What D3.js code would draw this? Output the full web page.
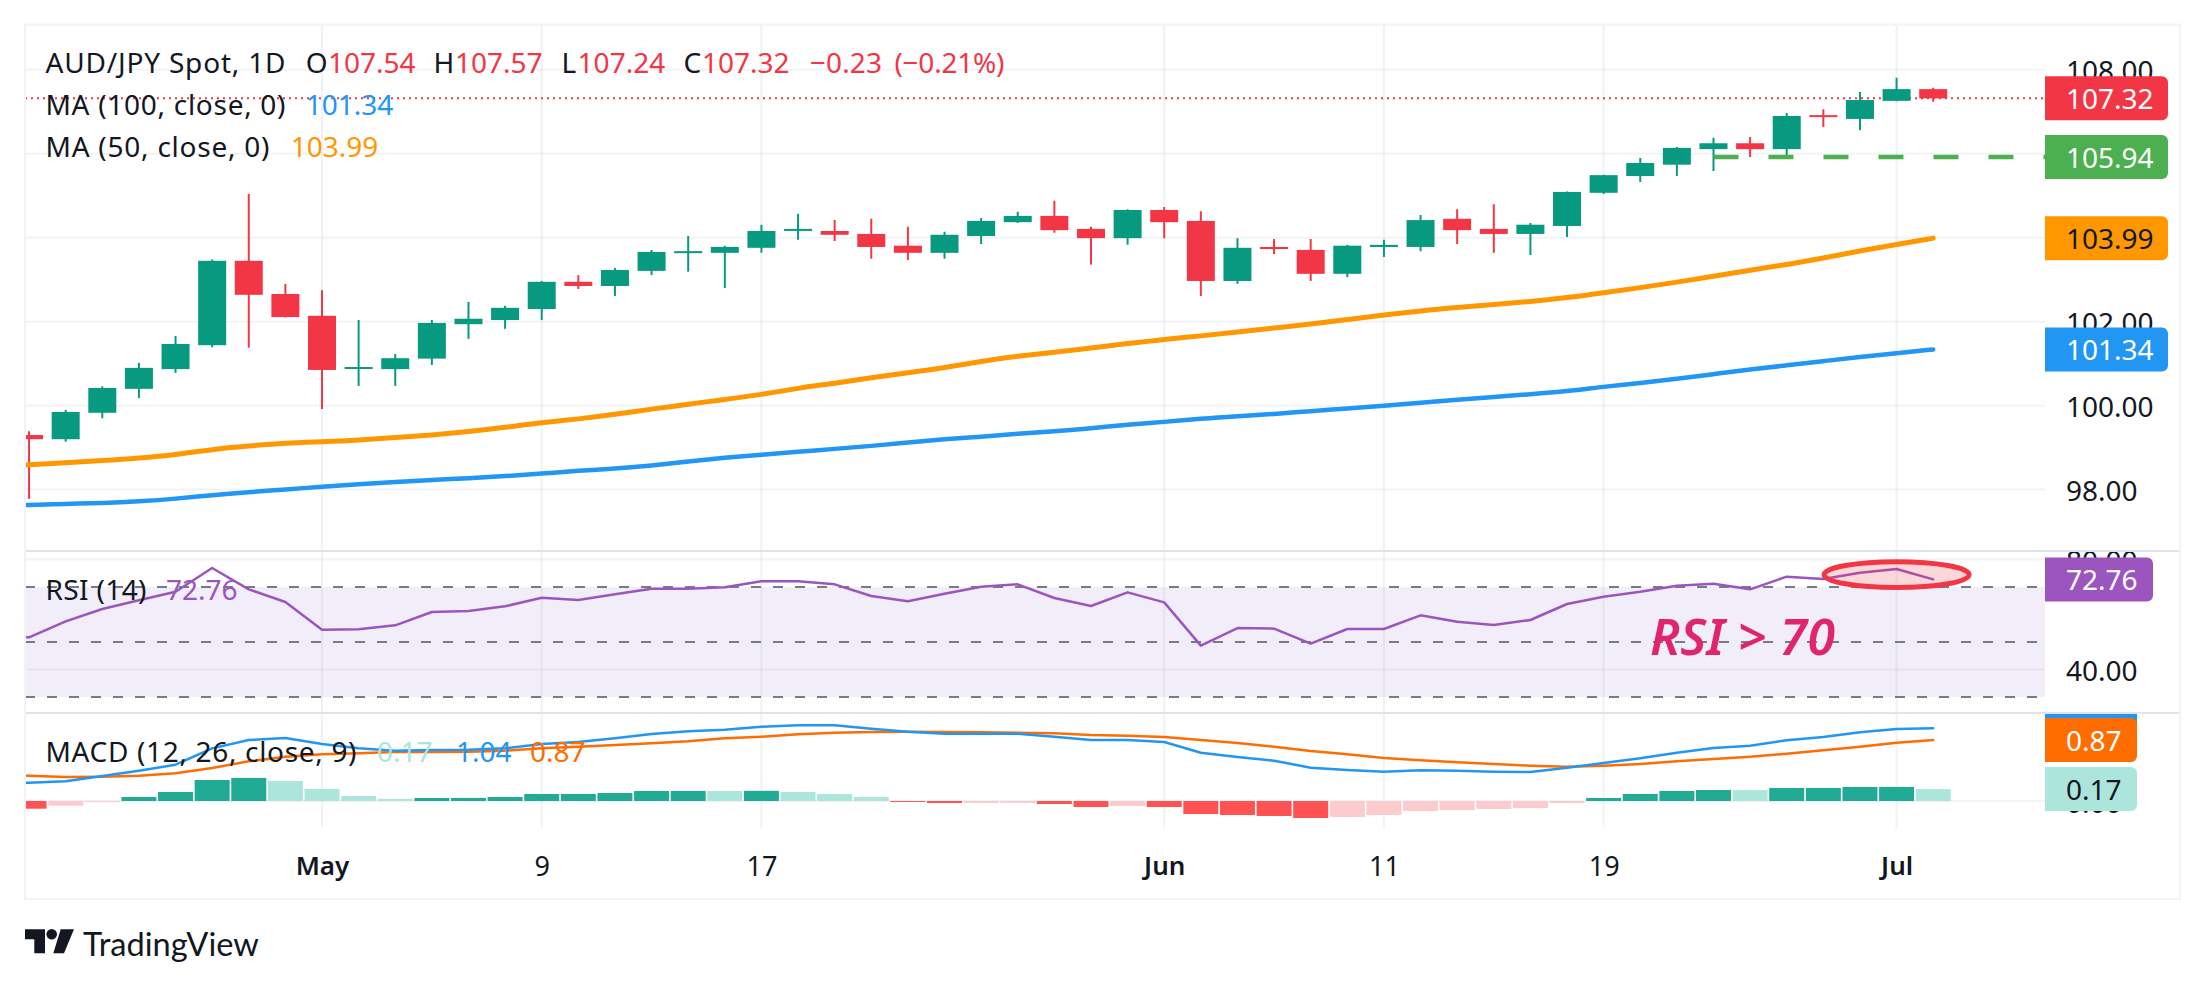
<!DOCTYPE html>
<html>
<head>
<meta charset="utf-8">
<script src="https://cdn.jsdelivr.net/npm/d3@7"></script>
<style>
  body { margin: 0; background: #fff; }
  text { font-family: "Noto Sans", Lato, sans-serif; font-size: 28px; dominant-baseline: central; }
</style>
</head>
<body>
<svg id="chart" width="2205" height="987"></svg>
<script>
// Candles, oldest first
var openPrices = [99.30,99.20,99.83,100.40,100.87,101.44,103.45,102.66,102.14,100.88,100.87,101.12,101.94,102.04,102.30,102.95,102.85,103.21,103.65,103.64,
  103.76,104.17,104.16,104.09,103.81,103.64,104.04,104.37,104.52,104.21,103.99,104.66,104.40,102.97,103.78,103.71,103.14,103.78,103.78,104.45,
  104.21,104.09,104.28,105.07,105.47,105.74,106.11,106.25,106.11,106.92,106.83,107.26,107.54];
var highPrices = [99.39,99.90,100.46,101.02,101.66,103.48,105.04,102.90,102.75,102.04,101.23,102.04,102.47,102.38,102.97,103.11,103.28,103.71,104.04,103.81,
  104.31,104.57,104.42,104.45,104.26,104.14,104.47,104.62,104.88,104.26,104.68,104.73,104.63,103.99,103.97,103.97,103.83,103.95,104.54,104.68,
  104.80,104.35,105.10,105.50,105.90,106.16,106.38,106.40,106.97,107.06,107.47,107.81,107.57];
var lowPrices = [97.78,99.14,99.70,100.18,100.78,101.39,101.38,102.10,99.92,100.47,100.47,100.97,101.59,101.83,102.04,102.78,102.61,103.11,103.19,102.80,
  103.64,103.95,103.92,103.50,103.47,103.50,103.85,104.35,104.12,103.36,103.83,103.99,102.61,102.90,103.61,102.97,103.06,103.54,103.68,103.85,
  103.64,103.59,104.02,105.04,105.33,105.47,105.59,105.92,105.95,106.64,106.56,107.25,107.24];
var closePrices = [99.20,99.85,100.42,100.90,101.47,103.45,102.64,102.11,100.85,100.92,101.13,101.97,102.07,102.33,102.95,102.85,103.23,103.66,103.68,103.78,
  104.16,104.21,104.07,103.78,103.64,104.07,104.40,104.52,104.18,103.99,104.66,104.37,102.97,103.76,103.73,103.14,103.81,103.83,104.42,104.18,
  104.09,104.31,105.09,105.49,105.78,106.14,106.25,106.11,106.90,106.88,107.28,107.54,107.32];

// Indicator lines start one bar before the first candle, off the left edge
var ma50 = [98.55,98.59,98.64,98.69,98.75,98.83,98.96,99.04,99.11,99.14,99.18,99.24,99.30,99.38,99.48,99.60,99.68,99.79,99.92,100.03,100.15,
  100.26,100.42,100.53,100.67,100.78,100.90,101.06,101.18,101.27,101.37,101.48,101.58,101.66,101.75,101.85,101.94,102.05,102.16,102.26,102.34,
  102.41,102.48,102.57,102.69,102.81,102.94,103.08,103.23,103.36,103.51,103.69,103.84,103.99];
var ma100 = [97.62,97.63,97.66,97.68,97.72,97.78,97.87,97.94,98.00,98.07,98.13,98.18,98.23,98.27,98.32,98.38,98.45,98.50,98.57,98.67,98.76,
  98.83,98.90,98.97,99.04,99.12,99.20,99.26,99.33,99.39,99.46,99.55,99.61,99.69,99.75,99.80,99.87,99.93,100.00,100.07,100.14,
  100.21,100.27,100.34,100.45,100.54,100.64,100.75,100.86,100.96,101.06,101.16,101.25,101.34];
var rsi = [51.58,51.70,57.52,62.00,65.15,68.30,76.91,69.15,64.55,54.48,54.61,56.06,60.91,61.27,62.97,66.12,65.27,67.33,69.39,69.39,69.88,
  72.06,72.06,70.97,66.73,64.79,67.58,70.12,70.97,66.00,63.09,68.06,64.42,48.67,55.09,54.85,49.39,54.73,54.73,59.70,57.39,
  56.18,58.00,63.82,66.48,68.30,70.48,71.21,69.15,73.76,72.91,75.21,76.55,72.76];
var macdLine = [0.257,0.262,0.281,0.357,0.433,0.519,0.752,0.871,0.900,0.814,0.752,0.719,0.729,0.733,0.752,0.814,0.843,0.895,0.957,0.995,1.019,
  1.062,1.081,1.081,1.033,0.990,0.962,0.962,0.962,0.919,0.871,0.871,0.843,0.690,0.629,0.576,0.476,0.443,0.419,0.438,0.433,
  0.419,0.414,0.476,0.543,0.610,0.690,0.757,0.790,0.867,0.914,0.981,1.029,1.040];
var signalLine = [0.367,0.362,0.343,0.348,0.362,0.395,0.471,0.567,0.633,0.667,0.681,0.700,0.700,0.705,0.719,0.752,0.776,0.800,0.824,0.852,0.895,
  0.919,0.952,0.976,0.986,0.990,0.986,0.981,0.976,0.967,0.943,0.933,0.914,0.871,0.829,0.776,0.714,0.667,0.614,0.581,0.552,
  0.529,0.505,0.490,0.505,0.529,0.567,0.600,0.633,0.676,0.724,0.776,0.833,0.870];
var macdHist = [-0.110,-0.067,-0.015,0.057,0.129,0.300,0.330,0.286,0.171,0.071,0.030,0.043,0.044,0.057,0.100,0.101,0.114,0.143,0.144,0.143,
  0.145,0.129,0.100,0.057,-0.014,-0.029,-0.028,-0.027,-0.043,-0.086,-0.071,-0.086,-0.186,-0.200,-0.214,-0.243,-0.229,-0.200,-0.143,-0.129,
  -0.114,-0.100,-0.029,0.043,0.100,0.143,0.157,0.156,0.186,0.187,0.200,0.201,0.170];

// Axis ticks
var dateTickIndex = [8, 14, 20, 31, 37, 43, 51];
var dateTickLabels = ['May', '9', '17', 'Jun', '11', '19', 'Jul'];
var monthLabels = ['May', 'Jun', 'Jul'];
var priceTicks = [108, 106, 104, 102, 100, 98];
var rsiTicks = [80, 40];
var rsiLevels = [70, 50, 30];
var macdTicks = [0];

var lastClose = 107.32;
var targetPrice = 105.94;
var lastBar = closePrices.length - 1;

var green = '#089981', red = '#f23645', blue = '#2196f3', orange = '#ff9800';
var purple = '#9c55bf', macdOrange = '#ff6d00', ink = '#131722', grid = '#f2f3f6';
var left = 25, right = 2180, axisX = 2045, labelX = 2066, top_ = 24.5, bottom = 899;
var mainBottom = 551, rsiBottom = 713, macdBottom = 828;

var svg = d3.select('#chart');

// Scales
var x = d3.scaleLinear().domain([0, lastBar]).range([29.06, 1933.2]);
var y = d3.scaleLinear().domain([108, 98]).range([69.8, 489.6]);
var yRsi = d3.scaleLinear().domain([70, 30]).range([587, 697]);
var yMacd = d3.scaleLinear().domain([0, 1]).range([801, 731]);

function addClip(id, x0, y0, x1, y1) {
  svg.append('clipPath').attr('id', id).append('rect')
    .attr('x', x0).attr('y', y0).attr('width', x1 - x0).attr('height', y1 - y0);
}
addClip('clipMain', left, top_, axisX, mainBottom);
addClip('clipRsi', left, mainBottom, axisX, rsiBottom);
addClip('clipMacd', left, rsiBottom, axisX, macdBottom);
addClip('axisMain', axisX, top_, right, mainBottom);
addClip('axisRsi', axisX, mainBottom, right, rsiBottom);
addClip('axisMacd', axisX, rsiBottom, right, macdBottom);

// ---------- grid and frame
function hGrid(values, scale, color) {
  svg.append('g').selectAll('line').data(values).join('line')
    .attr('x1', left).attr('x2', axisX)
    .attr('y1', scale).attr('y2', scale)
    .attr('stroke', color).attr('stroke-width', 2);
}

// RSI band sits under the grid
svg.append('rect')
  .attr('x', left).attr('width', axisX - left)
  .attr('y', yRsi(70)).attr('height', yRsi(30) - yRsi(70))
  .attr('fill', 'rgba(126,87,194,0.1)');

hGrid(priceTicks, y, grid);
hGrid(rsiTicks, yRsi, 'rgba(120,123,134,0.09)');
hGrid(macdTicks, yMacd, grid);

svg.append('g').selectAll('line').data(dateTickIndex).join('line')
  .attr('x1', x).attr('x2', x)
  .attr('y1', top_).attr('y2', macdBottom)
  .attr('stroke', 'rgba(120,123,134,0.1)').attr('stroke-width', 2);

// ---------- main pane
var mainPane = svg.append('g').attr('clip-path', 'url(#clipMain)');

mainPane.append('line')
  .attr('x1', left).attr('x2', axisX)
  .attr('y1', y(lastClose)).attr('y2', y(lastClose))
  .attr('stroke', red).attr('stroke-width', 2).attr('stroke-dasharray', '2 4');

function drawLine(pane, values, scale, color, width, curve) {
  var line = d3.line().x((d, i) => x(i - 1)).y((d) => scale(d)).curve(curve || d3.curveLinear);
  pane.append('path')
    .attr('d', line(values))
    .attr('fill', 'none')
    .attr('stroke', color)
    .attr('stroke-width', width)
    .attr('stroke-linecap', 'round')
    .attr('stroke-linejoin', 'round');
}

var bars = closePrices.map((c, i) => i);
mainPane.append('g').selectAll('line').data(bars).join('line')
  .attr('x1', x).attr('x2', x)
  .attr('y1', (i) => y(highPrices[i]))
  .attr('y2', (i) => y(lowPrices[i]))
  .attr('stroke', (i) => closePrices[i] >= openPrices[i] ? green : red)
  .attr('stroke-width', 2);

mainPane.append('g').selectAll('rect').data(bars).join('rect')
  .attr('x', (i) => x(i) - 14)
  .attr('width', 28)
  .attr('y', (i) => y(Math.max(openPrices[i], closePrices[i])))
  .attr('height', (i) => Math.max(2, Math.abs(y(openPrices[i]) - y(closePrices[i]))))
  .attr('fill', (i) => closePrices[i] >= openPrices[i] ? green : red);

drawLine(mainPane, ma100, y, blue, 4.5, d3.curveBasis);
drawLine(mainPane, ma50, y, orange, 5, d3.curveBasis);

// Green dashed level, drawn from the bar where it was placed
svg.append('line')
  .attr('x1', x(46)).attr('x2', axisX)
  .attr('y1', y(targetPrice) + 0.8).attr('y2', y(targetPrice) + 0.8)
  .attr('stroke', '#4caf50').attr('stroke-width', 4.5).attr('stroke-dasharray', '25 30');

// ---------- RSI pane
var rsiPane = svg.append('g').attr('clip-path', 'url(#clipRsi)');

rsiPane.append('g').selectAll('line').data(rsiLevels).join('line')
  .attr('x1', left).attr('x2', axisX)
  .attr('y1', yRsi).attr('y2', yRsi)
  .attr('stroke', '#787b86').attr('stroke-width', 2).attr('stroke-dasharray', '10 12');

drawLine(rsiPane, rsi, yRsi, purple, 2.5);

// Overbought marker around the last bars
svg.append('ellipse')
  .attr('cx', x(51)).attr('cy', 574.7).attr('rx', 72.5).attr('ry', 12.9)
  .attr('fill', 'rgba(242,54,69,0.2)')
  .attr('stroke', red).attr('stroke-width', 5);

svg.append('text')
  .attr('x', 1650).attr('y', 636)
  .attr('fill', '#e0256f')
  .attr('textLength', 185).attr('lengthAdjust', 'spacing')
  .style('font-size', '50px').style('font-weight', 600).style('font-style', 'italic')
  .text('RSI > 70');

// ---------- MACD pane
var macdPane = svg.append('g').attr('clip-path', 'url(#clipMacd)');

function histColor(v, i) {
  var prev = i > 0 ? macdHist[i - 1] : 0;
  if (v >= 0) return v > prev ? '#22ab94' : '#ace5dc';
  return v < prev ? '#ff5252' : '#fccbcd';
}

macdPane.append('g').selectAll('rect').data(macdHist).join('rect')
  .attr('x', (d, i) => x(i) - 17.5)
  .attr('width', 35)
  .attr('y', (d) => d >= 0 ? yMacd(d) : yMacd(0))
  .attr('height', (d) => Math.abs(yMacd(d) - yMacd(0)))
  .attr('fill', histColor);

drawLine(macdPane, signalLine, yMacd, macdOrange, 2.5);
drawLine(macdPane, macdLine, yMacd, blue, 2.5);

// ---------- axes
function rightAxis(scale, ticks, clip) {
  var axis = d3.axisRight(scale).tickValues(ticks).tickSize(0).tickPadding(0).tickFormat(d3.format('.2f'));
  var g = svg.append('g').attr('clip-path', 'url(#' + clip + ')')
    .append('g').attr('transform', 'translate(' + labelX + ',0)').call(axis);
  g.select('.domain').remove();
  g.selectAll('text').attr('dy', null).attr('fill', ink).attr('text-anchor', 'start');
}
rightAxis(y, priceTicks, 'axisMain');
rightAxis(yRsi, rsiTicks, 'axisRsi');
rightAxis(yMacd, macdTicks, 'axisMacd');

var xAxis = d3.axisBottom(x)
  .tickValues(dateTickIndex)
  .tickSize(0)
  .tickPadding(0)
  .tickFormat((d, i) => dateTickLabels[i]);
var xAxisG = svg.append('g').attr('transform', 'translate(0,865)').call(xAxis);
xAxisG.select('.domain').remove();
xAxisG.selectAll('text')
  .attr('y', 0).attr('dy', null)
  .attr('fill', ink)
  .style('font-size', (d, i) => monthLabels.includes(dateTickLabels[i]) ? '26px' : '27px')
  .style('font-weight', (d, i) => monthLabels.includes(dateTickLabels[i]) ? 600 : 400);

// ---------- last value labels
function valueTag(clip, top, width, color, textColor, label) {
  var g = svg.append('g').attr('clip-path', 'url(#' + clip + ')');
  var h = 44, r = 6;
  g.append('path')
    .attr('d', 'M' + axisX + ',' + top + 'h' + (width - r) + 'a' + r + ',' + r + ' 0 0 1 ' + r + ',' + r +
      'v' + (h - 2 * r) + 'a' + r + ',' + r + ' 0 0 1 ' + (-r) + ',' + r + 'h' + (r - width) + 'z')
    .attr('fill', color);
  g.append('text')
    .attr('x', labelX).attr('y', top + h / 2)
    .attr('fill', textColor)
    .text(label);
}
valueTag('axisMain', y(lastClose) - 22, 123, red, '#fff', '107.32');
valueTag('axisMain', y(targetPrice) - 21.2, 123, '#4caf50', '#fff', '105.94');
valueTag('axisMain', y(103.99) - 22, 123, orange, ink, '103.99');
valueTag('axisMain', y(101.34) - 22, 123, blue, '#fff', '101.34');
valueTag('axisRsi', yRsi(72.76) - 22, 108, purple, '#fff', '72.76');
valueTag('axisMacd', yMacd(1.04) - 22, 92, blue, '#fff', '1.04');
valueTag('axisMacd', yMacd(0.87) - 22, 92, macdOrange, '#fff', '0.87');
valueTag('axisMacd', yMacd(0.17) - 22, 92, '#ace5dc', ink, '0.17');

// ---------- pane borders
[mainBottom, rsiBottom].forEach((py) => {
  svg.append('line').attr('x1', left).attr('x2', right).attr('y1', py).attr('y2', py)
    .attr('stroke', '#e0e3eb').attr('stroke-width', 2);
});
svg.append('rect')
  .attr('x', left).attr('y', top_).attr('width', right - left).attr('height', bottom - top_)
  .attr('fill', 'none').attr('stroke', '#f0f3fa').attr('stroke-width', 2);

// ---------- legends, the wide labels are stretched to the measured widths
function legend(px, py, color, label, width) {
  var t = svg.append('text').attr('x', px).attr('y', py).attr('fill', color).text(label);
  if (width) t.attr('textLength', width).attr('lengthAdjust', 'spacing');
}
legend(45.5, 62, ink, 'AUD/JPY Spot, 1D', 240);
legend(305.7, 62, ink, 'O');
legend(328, 62, red, '107.54');
legend(433.6, 62, ink, 'H');
legend(455, 62, red, '107.57');
legend(561.6, 62, ink, 'L');
legend(577.6, 62, red, '107.24');
legend(683.5, 62, ink, 'C');
legend(702, 62, red, '107.32');
legend(810, 62, red, '\u22120.23', 72);
legend(894.4, 62, red, '(\u22120.21%)', 110);
legend(45.5, 104, ink, 'MA (100, close, 0)', 240);
legend(305.7, 104, blue, '101.34');
legend(45.5, 146, ink, 'MA (50, close, 0)', 224);
legend(290.7, 146, orange, '103.99');
legend(45.5, 589, ink, 'RSI (14)', 101);
legend(166, 589, purple, '72.76');
legend(45.5, 751, ink, 'MACD (12, 26, close, 9)', 311);
legend(377, 751, '#ace5dc', '0.17');
legend(456, 751, blue, '1.04');
legend(530, 751, macdOrange, '0.87');

// ---------- TradingView mark
var logo = svg.append('g').attr('fill', ink);
logo.append('path').attr('d', 'M25,929.3H45V953.3H34.3V939.3H25Z');
logo.append('circle').attr('cx', 51.7).attr('cy', 934.3).attr('r', 5.3);
logo.append('path').attr('d', 'M60.7,929.3H74L64,953.3H53.3Z');
svg.append('text')
  .attr('x', 83).attr('y', 943)
  .attr('fill', ink)
  .style('font-family', 'Lato')
  .style('font-size', '32.6px')
  .text('TradingView');
</script>
</body>
</html>
